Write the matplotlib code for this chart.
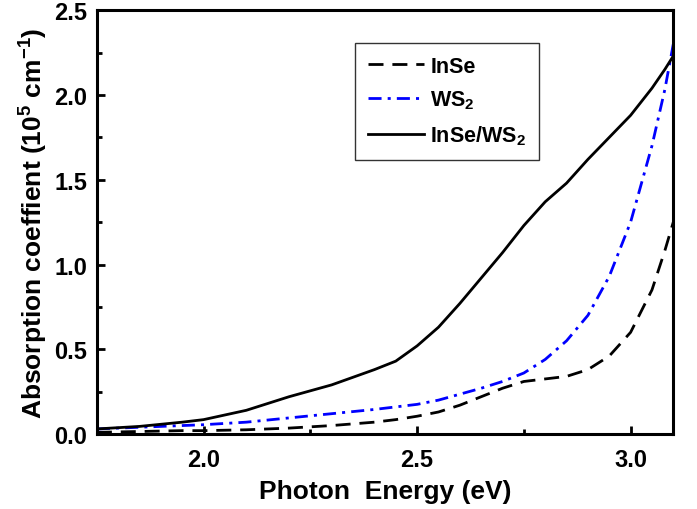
import numpy as np
import matplotlib
matplotlib.use("Agg")
import matplotlib.pyplot as plt
from matplotlib.ticker import MultipleLocator

plt.rcParams['font.family'] = 'Liberation Sans'
plt.rcParams['font.weight'] = 'bold'
plt.rcParams['mathtext.fontset'] = 'custom'
plt.rcParams['mathtext.bf'] = 'Liberation Sans:bold'
plt.rcParams['mathtext.rm'] = 'Liberation Sans:bold'
plt.rcParams['mathtext.default'] = 'bf'

# photon energy (eV)
energy = [1.75, 1.85, 1.95, 2.0, 2.1, 2.2, 2.3, 2.4, 2.45, 2.5, 2.55, 2.6,
          2.65, 2.7, 2.75, 2.8, 2.85, 2.9, 2.95, 3.0, 3.05, 3.08, 3.1]

# absorption coefficient (10^5 cm^-1)
inse = [0.01, 0.015, 0.02, 0.02, 0.025, 0.035, 0.05, 0.07, 0.085, 0.105, 0.13, 0.17,
        0.22, 0.27, 0.31, 0.325, 0.34, 0.38, 0.46, 0.6, 0.85, 1.08, 1.25]
ws2 = [0.03, 0.04, 0.05, 0.055, 0.07, 0.095, 0.12, 0.145, 0.16, 0.175, 0.2, 0.235,
       0.27, 0.31, 0.36, 0.44, 0.55, 0.7, 0.93, 1.25, 1.7, 2.03, 2.3]
hetero = [0.03, 0.045, 0.07, 0.085, 0.14, 0.22, 0.29, 0.38, 0.43, 0.52, 0.63, 0.77,
          0.92, 1.07, 1.23, 1.37, 1.48, 1.62, 1.75, 1.88, 2.04, 2.15, 2.23]

fig = plt.figure(figsize=(6.97, 5.10), dpi=100)
ax = fig.add_axes([0.139, 0.147, 0.827, 0.831])

ax.plot(energy, inse, color='black', lw=2.0, dashes=(5.4, 3.2), label='InSe')
ax.plot(energy, ws2, color='blue', lw=2.0, dashes=(4.7, 2.2, 1.1, 2.2), label='WS$_2$')
ax.plot(energy, hetero, color='black', lw=2.0, label='InSe/WS$_2$')

ax.set_xlim(1.75, 3.1)
ax.set_ylim(0, 2.5)
ax.xaxis.set_major_locator(MultipleLocator(0.5))
ax.xaxis.set_minor_locator(MultipleLocator(0.25))
ax.yaxis.set_major_locator(MultipleLocator(0.5))
ax.yaxis.set_minor_locator(MultipleLocator(0.25))
ax.tick_params(which='major', direction='in', length=6, width=2, labelsize=17, pad=7)
ax.tick_params(axis='x', which='major', pad=10)
ax.tick_params(which='minor', direction='in', length=3.5, width=2)
for s in ax.spines.values():
    s.set_linewidth(2.2)

ax.set_xlabel('Photon  Energy (eV)', fontsize=19, fontweight='bold', labelpad=6)
ax.set_ylabel('Absorption coeffient (10$^5$ cm$^{-1}$)', fontsize=19,
              fontweight='bold', labelpad=3)

leg = ax.legend(loc='upper left', bbox_to_anchor=(0.429, 0.948), fontsize=15.5,
                frameon=True, fancybox=False, edgecolor='black', handlelength=2.6,
                borderpad=0.6, labelspacing=0.55, handletextpad=0.3)
leg.get_frame().set_linewidth(1.0)

fig.savefig('out.png', dpi=100)
